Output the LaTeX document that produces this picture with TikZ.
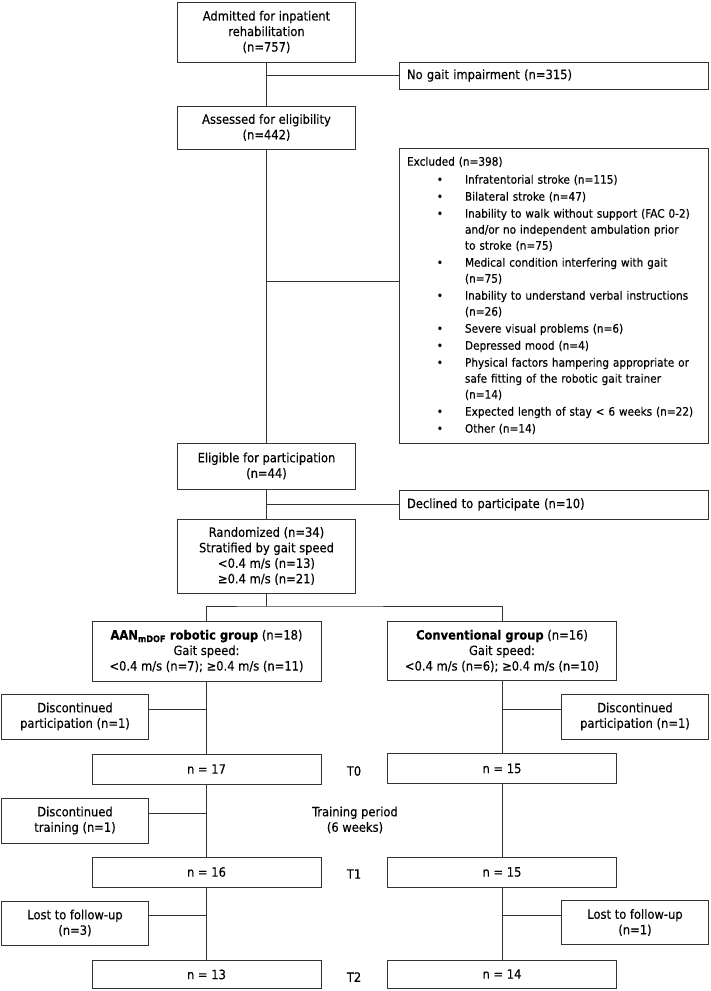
\documentclass[tikz,border=0pt]{standalone}
\usepackage{fontspec}
\setmainfont{DejaVu Sans Condensed}[FakeBold=0.3]
\usetikzlibrary{positioning}

\newcommand{\flowfont}{\fontsize{12.8}{15.5}\selectfont}
\newcommand{\exclfont}{\fontsize{11.7}{16}\selectfont}

\tikzset{
  box/.style={draw=black!80, line width=1pt, align=center, inner sep=0pt,
    font=\flowfont, text=black},
  mainbox/.style={box, minimum width=178pt},
  armbox/.style={box, minimum width=229pt},
  sidebox/.style={box, minimum width=147pt},
  widebox/.style={box, align=left, inner xsep=8pt, text width=293pt},
  link/.style={draw=black!80, line width=1pt},
  timelabel/.style={font=\flowfont, text=black, align=center},
}

\begin{document}
\begin{tikzpicture}[x=1pt, y=-1pt]
  \useasboundingbox (0,0) rectangle (710,991);

  % screening
  \node[mainbox, minimum height=60pt] (admit) at (266.5,32)
    {Admitted for inpatient\\rehabilitation\\(n=757)};
  \node[widebox, minimum height=27pt] (nogait) at (553.5,75.5)
    {No gait impairment (n=315)};
  \node[mainbox, minimum height=43pt] (assess) at (266.5,127.5)
    {Assessed for eligibility\\(n=442)};
  \node[widebox, minimum height=295pt, font=\exclfont] (excl) at (553.5,295.5)
    {Excluded (n=398)
     \begin{list}{\textbullet}{\setlength{\leftmargin}{58pt}\setlength{\labelwidth}{30pt}%
       \setlength{\labelsep}{22pt}\setlength{\itemsep}{1pt}\setlength{\parsep}{0pt}%
       \setlength{\topsep}{2pt}\setlength{\partopsep}{0pt}\setlength{\rightmargin}{0pt}}
     \item Infratentorial stroke (n=115)
     \item Bilateral stroke (n=47)
     \item Inability to walk without support (FAC 0-2)\newline
       and/or no independent ambulation prior\newline to stroke (n=75)
     \item Medical condition interfering with gait\newline (n=75)
     \item Inability to understand verbal instructions\newline (n=26)
     \item Severe visual problems (n=6)
     \item Depressed mood (n=4)
     \item Physical factors hampering appropriate or\newline
       safe fitting of the robotic gait trainer\newline (n=14)
     \item Expected length of stay < 6 weeks (n=22)
     \item Other (n=14)
     \end{list}};
  \node[mainbox, minimum height=46pt] (elig) at (266.5,466)
    {Eligible for participation\\(n=44)};
  \node[widebox, minimum height=29pt] (decl) at (553.5,504.5)
    {Declined to participate (n=10)};
  \node[mainbox, minimum height=74pt] (rand) at (266.5,556)
    {Randomized (n=34)\\Stratified by gait speed\\<0.4 m/s (n=13)\\≥0.4 m/s (n=21)};
  \coordinate (split) at (266.5,606);

  % allocation
  \node[armbox, minimum height=60pt] (robot) at (206.5,651)
    {\textbf{AAN\textsubscript{mDOF} robotic group} (n=18)\\Gait speed:\\<0.4 m/s (n=7); ≥0.4 m/s (n=11)};
  \node[armbox, minimum height=59pt] (conv) at (502,651)
    {\textbf{Conventional group} (n=16)\\Gait speed:\\<0.4 m/s (n=6); ≥0.4 m/s (n=10)};

  % follow-up
  \node[sidebox, minimum height=45pt] (robotdrop) at (75,716.5)
    {Discontinued\\participation (n=1)};
  \node[sidebox, minimum height=45pt] (convdrop) at (635,716.5)
    {Discontinued\\participation (n=1)};
  \node[armbox, minimum height=30pt] (robotT0) at (206.5,769) {n = 17};
  \node[armbox, minimum height=30pt] (convT0) at (502,768.5) {n = 15};
  \node[sidebox, minimum height=45pt] (robotstop) at (75,820.5)
    {Discontinued\\training (n=1)};
  \node[armbox, minimum height=30pt] (robotT1) at (206.5,872) {n = 16};
  \node[armbox, minimum height=30pt] (convT1) at (502,872) {n = 15};
  \node[sidebox, minimum height=44pt] (robotlost) at (75,923)
    {Lost to follow-up\\(n=3)};
  \node[sidebox, minimum height=44pt] (convlost) at (635,922.5)
    {Lost to follow-up\\(n=1)};
  \node[armbox, minimum height=28pt] (robotT2) at (206.5,974.5) {n = 13};
  \node[armbox, minimum height=28pt] (convT2) at (502,974) {n = 14};

  \node[timelabel] (t0) at (354,771) {T0};
  \node[timelabel] (train) at (355,820) {Training period\\(6 weeks)};
  \node[timelabel] (t1) at (354,874) {T1};
  \node[timelabel] (t2) at (354,977) {T2};

  % connectors
  \draw[link] (admit) -- (assess);
  \draw[link] (nogait.west) -- (nogait.west -| admit.south);
  \draw[link] (assess) -- (elig);
  \draw[link] ([yshift=14.5pt]excl.west) -- ([yshift=14.5pt]excl.west -| assess.south);
  \draw[link] (elig) -- (rand);
  \draw[link] (decl.west) -- (decl.west -| elig.south);
  \draw[link] (rand.south) -- (split);
  \draw[link] (robot.north) |- (split) -| (conv.north);

  \draw[link] (robot) -- (robotT0);
  \draw[link] (robotT0) -- (robotT1);
  \draw[link] (robotT1) -- (robotT2);
  \draw[link] (conv) -- (convT0);
  \draw[link] (convT0) -- (convT1);
  \draw[link] (convT1) -- (convT2);

  \draw[link] ([yshift=7.5pt]robotdrop.east) -- ([yshift=7.5pt]robotdrop.east -| robot.south);
  \draw[link] ([yshift=7.5pt]robotstop.east) -- ([yshift=7.5pt]robotstop.east -| robot.south);
  \draw[link] ([yshift=7.5pt]robotlost.east) -- ([yshift=7.5pt]robotlost.east -| robot.south);
  \draw[link] ([yshift=7.5pt]convdrop.west) -- ([yshift=7.5pt]convdrop.west -| conv.south);
  \draw[link] ([yshift=7.5pt]convlost.west) -- ([yshift=7.5pt]convlost.west -| conv.south);
\end{tikzpicture}
\end{document}
